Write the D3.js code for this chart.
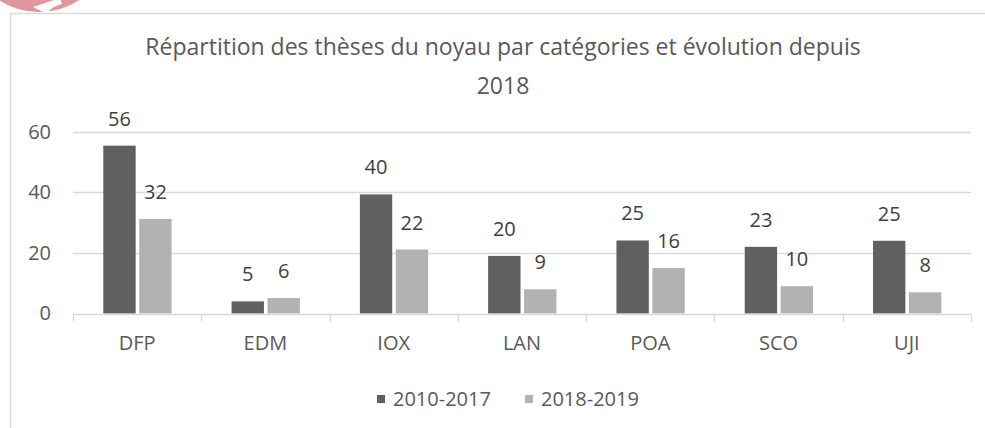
<!DOCTYPE html>
<html lang="fr">
<head>
    <meta charset="UTF-8">
    <title>Répartition des thèses</title>
    <script src="https://cdnjs.cloudflare.com/ajax/libs/d3/7.8.5/d3.min.js"></script>
    <style>
        body { margin: 0; background: #fff; }
        text { font-family: "Open Sans", "Noto Sans", sans-serif; }
    </style>
</head>
<body>
    <svg width="985" height="428"></svg>
    <script>
        // données
        const categories = ["DFP", "EDM", "IOX", "LAN", "POA", "SCO", "UJI"];
        const series = ["2010-2017", "2018-2019"];
        // hauteur des barres
        const values2010 = [55.4, 4, 39.3, 19, 24.1, 22, 24];
        const values2018 = [31.2, 5.1, 21.1, 8, 15, 9, 7];
        // étiquettes affichées
        const labels2010 = [56, 5, 40, 20, 25, 23, 25];
        const labels2018 = [32, 6, 22, 9, 16, 10, 8];
        const yTicks = [0, 20, 40, 60];
        const colors = ["#606060", "#b2b2b2"];

        const svg = d3.select("svg");
        const plot = { left: 73, right: 971, top: 131.7, bottom: 313.5 };

        // logo coupé en haut à gauche
        svg.append("circle").attr("cx", 39).attr("cy", -61).attr("r", 73).attr("fill", "#e0979b");
        svg.append("path").attr("d", "M33,7 L60,-2 L62,4 Q50,7 47,14 Z").attr("fill", "#fff");

        // cadre
        svg.append("path")
            .attr("d", "M10.5,440 L10.5,13.5 L990,13.5")
            .attr("fill", "none").attr("stroke", "#d9d9d9").attr("stroke-width", 1.5);

        // titre
        const title = svg.append("text").attr("text-anchor", "middle").attr("fill", "#595959").attr("font-size", 23);
        title.append("tspan").attr("x", 503).attr("y", 55).text("Répartition des thèses du noyau par catégories et évolution depuis");
        title.append("tspan").attr("x", 503).attr("y", 94).text("2018");

        // échelles
        const x0 = d3.scaleBand().domain(categories).range([plot.left, plot.right]);
        const x1 = d3.scaleBand().domain(series).range([30.3, 98.6]).paddingInner(0.1);
        const y = d3.scaleLinear().domain([0, 60]).range([plot.bottom, plot.top]);

        // grille
        svg.append("g").selectAll("line").data(yTicks.slice(1)).join("line")
            .attr("x1", plot.left).attr("x2", plot.right)
            .attr("y1", d => Math.round(y(d)) + 0.5).attr("y2", d => Math.round(y(d)) + 0.5)
            .attr("stroke", "#d9d9d9").attr("stroke-width", 1.3);

        // axe Y (labels seulement)
        const yAxis = svg.append("g").attr("transform", "translate(" + (plot.left - 22) + ",0)")
            .call(d3.axisLeft(y).tickValues(yTicks).tickSize(0).tickPadding(0));
        yAxis.select(".domain").remove();
        yAxis.selectAll("text").attr("font-size", 20).attr("fill", "#595959")
            .attr("font-family", "Open Sans");

        // barres
        const data = categories.map((c, i) => ({
            cat: c,
            vals: [
                { s: series[0], v: values2010[i], lab: labels2010[i] },
                { s: series[1], v: values2018[i], lab: labels2018[i] }
            ]
        }));
        const groups = svg.append("g").selectAll("g").data(data).join("g")
            .attr("transform", d => "translate(" + x0(d.cat) + ",0)");
        groups.selectAll("rect").data(d => d.vals).join("rect")
            .attr("x", d => x1(d.s)).attr("width", x1.bandwidth())
            .attr("y", d => y(d.v)).attr("height", d => y(0) - y(d.v))
            .attr("fill", (d, i) => colors[i]);
        groups.selectAll("text").data(d => d.vals).join("text")
            .attr("x", d => x1(d.s) + x1.bandwidth() / 2)
            .attr("y", d => y(d.v) - 20)
            .attr("text-anchor", "middle").attr("font-size", 20).attr("fill", "#404040")
            .text(d => d.lab);

        // axe X
        const xAxis = svg.append("g").attr("transform", "translate(0," + (Math.round(plot.bottom) + 0.5) + ")")
            .call(d3.axisBottom(x0).tickSize(0).tickPadding(21));
        xAxis.select(".domain").attr("stroke", "#d9d9d9").attr("stroke-width", 1.3)
            .attr("d", "M" + plot.left + ",0H" + plot.right);
        xAxis.selectAll("text").attr("font-size", 20).attr("fill", "#595959").attr("font-family", "Open Sans");
        svg.append("g").selectAll("line")
            .data(categories.map(c => x0(c)).concat([plot.right]))
            .join("line")
            .attr("x1", d => Math.round(d) + 0.5).attr("x2", d => Math.round(d) + 0.5)
            .attr("y1", Math.round(plot.bottom)).attr("y2", Math.round(plot.bottom) + 8)
            .attr("stroke", "#d9d9d9").attr("stroke-width", 1.3);

        // légende
        const legendX = [377, 525];
        const legend = svg.append("g").selectAll("g").data(series).join("g")
            .attr("transform", (d, i) => "translate(" + legendX[i] + ",395)");
        legend.append("rect").attr("width", 8).attr("height", 8).attr("fill", (d, i) => colors[i]);
        legend.append("text").attr("x", 16).attr("y", 11).attr("font-size", 20)
            .attr("fill", "#595959").text(d => d);
    </script>
</body>
</html>
